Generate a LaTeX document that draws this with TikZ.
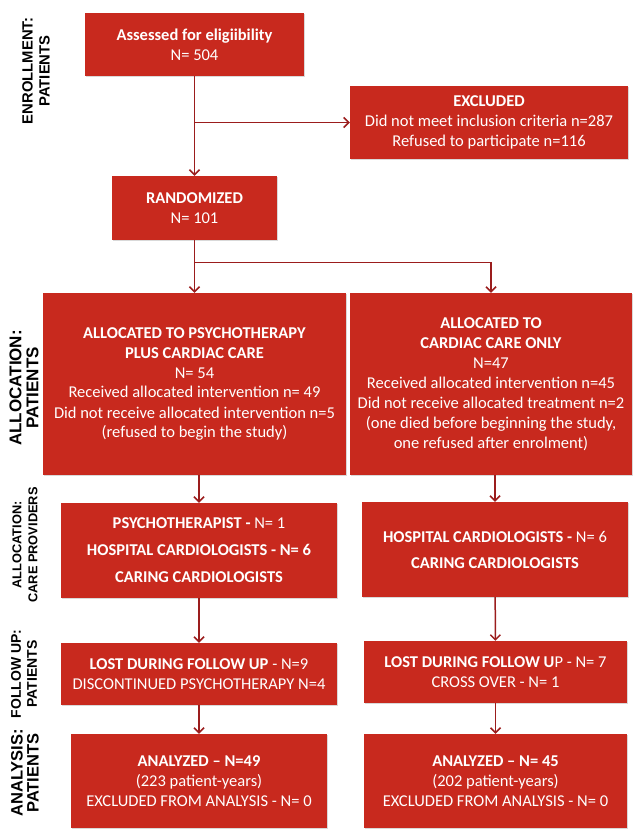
\documentclass[tikz,border=0pt]{standalone}
\usepackage{fontspec}
\setmainfont{Carlito}
\newfontfamily\stagefont{Liberation Sans}
\usetikzlibrary{arrows.meta, positioning, shadows, calc}
\definecolor{clrBox}{HTML}{C8291E}
\definecolor{clrLink}{HTML}{9B1D1D}

\begin{document}
\begin{tikzpicture}[x=1pt, y=-1pt,
    box/.style={rectangle, fill=clrBox, text=white, align=center, font=\fontsize{16.5}{20}\selectfont, inner sep=2pt, drop shadow={shadow xshift=1.2pt, shadow yshift=-1.2pt, opacity=0.3}},
    stage/.style={rotate=90, align=center, font=\stagefont\bfseries\fontsize{14.8}{17}\selectfont},
    arrow/.style={-{Straight Barb[length=5pt, width=10pt]}, line width=1.5pt, clrLink},
    link/.style={line width=1.5pt, clrLink},
]
\useasboundingbox (0,0) rectangle (636,831);

% Stage labels
\node[stage] (lblEnrol) at (36, 71) {ENROLLMENT:\\PATIENTS};
\node[stage, font=\stagefont\bfseries\fontsize{17}{17}\selectfont] (lblAllocP) at (24, 388) {ALLOCATION:\\PATIENTS};
\node[stage, font=\stagefont\bfseries\fontsize{12.8}{16}\selectfont] (lblAllocC) at (25, 545) {ALLOCATION:\\CARE PROVIDERS};
\node[stage, font=\stagefont\bfseries\fontsize{14}{16}\selectfont] (lblFollow) at (24, 674) {FOLLOW UP:\\PATIENTS};
\node[stage, font=\stagefont\bfseries\fontsize{16.5}{16}\selectfont] (lblAnalysis) at (25, 773) {ANALYSIS:\\PATIENTS};

% Enrollment
\node[box, minimum width=219pt, minimum height=63pt] (assess) at (194.5, 44.5) {\textbf{Assessed for eligiibility}\\N= 504};
\node[box, minimum width=278pt, minimum height=73pt] (excl) at (489, 122.5) {\textbf{EXCLUDED}\\Did not meet inclusion criteria n=287\\Refused to participate n=116};
\node[box, minimum width=165pt, minimum height=64pt] (rand) at (194.5, 208) {\textbf{RANDOMIZED}\\N= 101};

\coordinate (splitExcl) at (assess.south |- excl.west);
\draw[arrow] (assess) -- (rand);
\draw[arrow] (splitExcl) -- (excl.west);

% Allocation of patients
\node[box, minimum width=303pt, minimum height=182pt] (allocPsy) at (194.5, 384) {\textbf{ALLOCATED TO PSYCHOTHERAPY}\\\textbf{PLUS CARDIAC CARE}\\N= 54\\Received allocated intervention n= 49\\Did not receive allocated intervention n=5\\(refused to begin the study)};
\node[box, minimum width=282pt, minimum height=182pt] (allocCard) at (491, 384) {\textbf{ALLOCATED TO}\\\textbf{CARDIAC CARE ONLY}\\N=47\\Received allocated intervention n=45\\Did not receive allocated treatment n=2\\(one died before beginning the study,\\one refused after enrolment)};

\coordinate (splitRand) at ($(rand.south)!0.42!(allocPsy.north)$);
\draw[arrow] (rand) -- (allocPsy);
\draw[arrow] (splitRand) -| (allocCard.north);

% Allocation of care providers
\node[box, minimum width=276pt, minimum height=95pt] (carePsy) at (199, 550.5) {\textbf{PSYCHOTHERAPIST -} N= 1\\[7pt]\textbf{HOSPITAL CARDIOLOGISTS - N= 6}\\[7pt]\textbf{CARING CARDIOLOGISTS}};
\node[box, minimum width=266pt, minimum height=95pt] (careCard) at (495, 549.5) {\textbf{HOSPITAL CARDIOLOGISTS -} N= 6\\[6pt]\textbf{CARING CARDIOLOGISTS}};

\draw[arrow] (carePsy.north |- allocPsy.south) -- (carePsy.north);
\draw[arrow] (careCard.north |- allocCard.south) -- (careCard.north);

% Follow up
\node[box, minimum width=276pt, minimum height=62pt] (lostPsy) at (199, 674) {\textbf{LOST DURING FOLLOW UP} - N=9\\DISCONTINUED PSYCHOTHERAPY N=4};
\node[box, minimum width=263pt, minimum height=62pt] (lostCard) at (495.5, 672) {\textbf{LOST DURING FOLLOW U}P - N= 7\\CROSS OVER - N= 1};

\draw[arrow] (carePsy) -- (lostPsy);
\draw[arrow] (careCard) -- (lostCard);

% Analysis
\node[box, minimum width=256pt, minimum height=94pt] (anaPsy) at (199, 781) {\textbf{ANALYZED – N=49}\\(223 patient-years)\\EXCLUDED FROM ANALYSIS - N= 0};
\node[box, minimum width=263pt, minimum height=94pt] (anaCard) at (495.5, 781) {\textbf{ANALYZED – N= 45}\\(202 patient-years)\\EXCLUDED FROM ANALYSIS - N= 0};

\draw[arrow] (lostPsy) -- (anaPsy);
\draw[arrow] (lostCard) -- (anaCard);

\end{tikzpicture}
\end{document}
